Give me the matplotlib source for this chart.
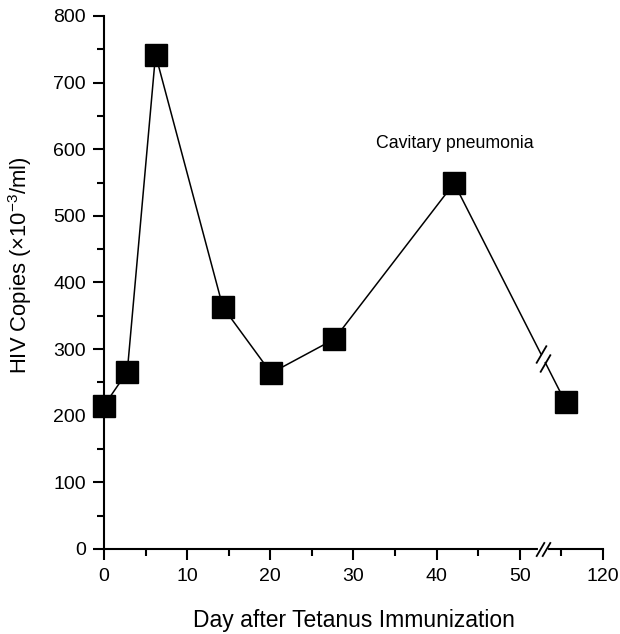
import numpy as np
import matplotlib
matplotlib.use("Agg")
import matplotlib.pyplot as plt

plt.rcParams['font.family'] = ['Liberation Sans', 'DejaVu Sans']
plt.rcParams['mathtext.fontset'] = 'custom'
plt.rcParams['mathtext.rm'] = 'Liberation Sans'
plt.rcParams['mathtext.it'] = 'Liberation Sans'

## data (x is position on the broken axis, last point sits past the break)
days = [0, 2.8, 6.2, 14.3, 20.1, 27.7, 42.1, 55.5]
copies = [215, 266, 742, 363, 264, 315, 549, 220]
xtick_pos = [0, 10, 20, 30, 40, 50, 60]
xtick_labels = ['0', '10', '20', '30', '40', '50', '120']
break_x = 52.8  # where the day axis is broken
note = "Cavitary pneumonia"

fig = plt.figure(figsize=(6.2, 6.34), dpi=100)
ax = fig.add_axes([0.1677, 0.1341, 0.8048, 0.8407])

# line, split at the axis break
gap = 0.27
y_a = np.interp(break_x - gap, days, copies)
y_b = np.interp(break_x + gap, days, copies)
ax.plot(days[:7] + [break_x - gap], copies[:7] + [y_a], color='black', lw=1.1, clip_on=False)
ax.plot([break_x + gap, days[7]], [y_b, copies[7]], color='black', lw=1.1, clip_on=False)
ax.plot(days, copies, ls='none', marker='s', ms=16.5, color='black', clip_on=False, zorder=5)

# break marks
slash = [(-0.35, -0.6), (0.35, 0.6)]
ax.plot([break_x - gap, break_x + gap], [y_a, y_b], ls='none', marker=slash, ms=13,
        mew=1.3, color='black', clip_on=False)
ax.plot([break_x - 0.34, break_x + 0.34], [0, 0], color='white', lw=3, clip_on=False, zorder=3)
ax.plot([break_x - 0.34, break_x + 0.34], [0, 0], ls='none', marker=slash, ms=10.5,
        mew=1.3, color='black', clip_on=False, zorder=4)

ax.text(42.2, 608, note, ha='center', va='center', fontsize=12.8)

ax.set_xlim(0, 60)
ax.set_ylim(0, 800)
ax.set_xticks(xtick_pos)
ax.set_xticklabels(xtick_labels)
ax.set_xticks(np.arange(5, 60, 10), minor=True)
ax.set_yticks(np.arange(0, 801, 100))
ax.set_yticks(np.arange(50, 800, 100), minor=True)

for s in ['top', 'right']:
    ax.spines[s].set_visible(False)
for s in ['left', 'bottom']:
    ax.spines[s].set_linewidth(1.5)
ax.tick_params(which='major', length=8, width=1.5, labelsize=14, direction='out', pad=5)
ax.tick_params(which='minor', length=5, width=1.5, direction='out')
ax.tick_params(axis='x', which='major', pad=6)

ax.set_xlabel('Day after Tetanus Immunization', fontsize=16.5)
ax.set_ylabel(r'HIV Copies ($\times$10$^{-3}$/ml)', fontsize=15.8)
ax.xaxis.set_label_coords(0.5, -0.113)
ax.yaxis.set_label_coords(-0.14, 0.533)

fig.savefig('out.png', dpi=100)
